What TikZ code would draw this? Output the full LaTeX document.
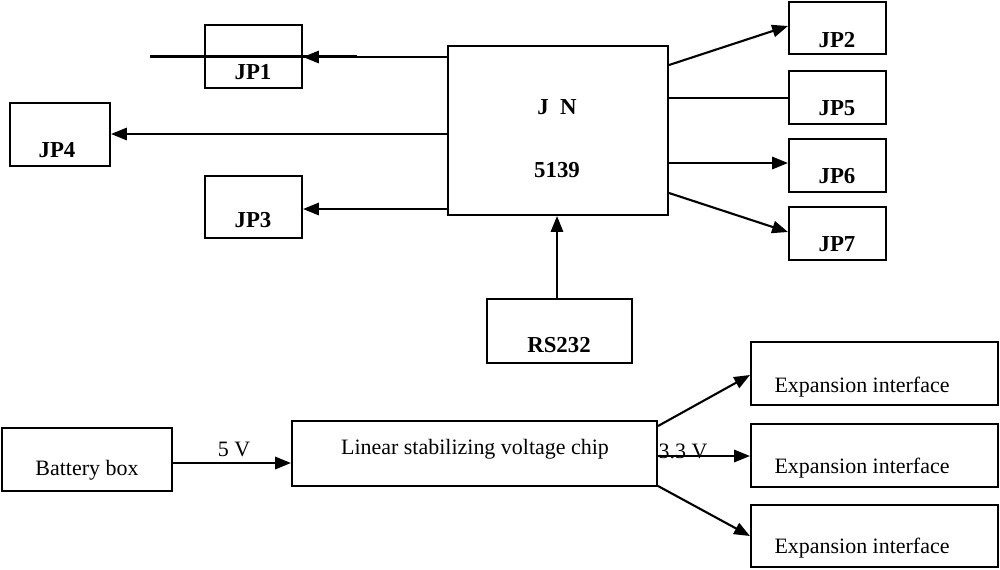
\documentclass[tikz,border=0pt]{standalone}
\usepackage{fontspec}
\setmainfont{Liberation Serif}
\usetikzlibrary{arrows.meta}

\begin{document}
\begin{tikzpicture}[
    x=0.02cm, y=-0.02cm,
    % Box and arrow styles
    box/.style={draw, line width=1.2pt, inner sep=0pt},
    jp/.style={font=\bfseries\fontsize{13}{15}\selectfont},
    plain/.style={font=\fontsize{12.5}{15}\selectfont},
    arr/.style={line width=1.2pt, -{Triangle[length=9pt,width=7pt]}},
    wire/.style={line width=1.2pt},
]
\useasboundingbox (0,0) rectangle (1000,569);

% Upper boxes
\node[box, minimum width=97\pgflinewidth] (jp1) at (253.5,56.5) {};
\path[box] (205,25) rectangle (302,88);
\coordinate (jp1e) at (302,57);
\node[box, minimum width=1.94cm, minimum height=1.26cm] (jp1) at (253.5,56.5) {};
\node[box, minimum width=2.0cm, minimum height=1.26cm] (jp4) at (60,134.5) {};
\node[box, minimum width=1.94cm, minimum height=1.24cm] (jp3) at (253.5,207) {};
\node[box, minimum width=4.4cm, minimum height=3.38cm] (jn) at (558,130.5) {};
\node[box, minimum width=1.94cm, minimum height=1.04cm] (jp2) at (837.5,28) {};
\node[box, minimum width=1.94cm, minimum height=1.06cm] (jp5) at (837.5,97.5) {};
\node[box, minimum width=1.94cm, minimum height=1.06cm] (jp6) at (837.5,165.5) {};
\node[box, minimum width=1.94cm, minimum height=1.06cm] (jp7) at (837.5,233.5) {};
\node[box, minimum width=2.9cm, minimum height=1.28cm] (rs) at (559.5,331) {};

% Upper labels
\node[jp] (jp1t) at (253,72) {JP1};
\node[jp] (jp4t) at (57,150) {JP4};
\node[jp] (jp3t) at (253,220) {JP3};
\node[jp] (jnt) at (557,107) {J\ \ N};
\node[jp] (jnn) at (557,170) {5139};
\node[jp] (jp2t) at (837,40) {JP2};
\node[jp] (jp5t) at (837,108) {JP5};
\node[jp] (jp6t) at (837,176) {JP6};
\node[jp] (jp7t) at (837,244) {JP7};
\node[jp] (rst) at (559,345) {RS232};

% Upper connectors
\draw[arr] (jn.west |- 0,57) -- (jp1.east |- 0,57);
\draw[arr] (jn.west |- 0,134) -- (jp4.east |- 0,134);
\draw[arr] (jn.west |- 0,209) -- (jp3.east |- 0,209);
\draw[arr] (jn.east |- 0,65) -- (jp2.west |- 0,26);
\draw[wire] (jn.east |- 0,98) -- (jp5.west |- 0,98);
\draw[arr] (jn.east |- 0,163) -- (jp6.west |- 0,163);
\draw[arr] (jn.east |- 0,193) -- (jp7.west |- 0,232);
\draw[arr] (rs.north -| 557,0) -- (jn.south -| 557,0);

% Lower boxes
\node[box, minimum width=3.4cm, minimum height=1.26cm] (bat) at (87,459.5) {};
\node[box, minimum width=7.3cm, minimum height=1.3cm] (lin) at (474.5,453.5) {};
\node[box, minimum width=4.94cm, minimum height=1.26cm] (ex1) at (874.5,373.5) {};
\node[box, minimum width=4.94cm, minimum height=1.26cm] (ex2) at (874.5,455.5) {};
\node[box, minimum width=4.94cm, minimum height=1.24cm] (ex3) at (874.5,536) {};

% Lower labels
\node[plain] (batt) at (87,470) {Battery box};
\node[plain] (lint) at (475,449) {Linear stabilizing voltage chip};
\node[plain] (ex1t) at (862,387) {Expansion interface};
\node[plain] (ex2t) at (862,468) {Expansion interface};
\node[plain] (ex3t) at (862,548) {Expansion interface};
\node[plain] (v5) at (234,449) {5 V};
\node[plain] (v33) at (683,451) {3.3 V};

% Lower connectors
\draw[arr] (bat.east |- 0,463) -- (lin.west |- 0,463);
\draw[arr] (lin.east |- 0,426) -- (ex1.west |- 0,375);
\draw[arr] (lin.east |- 0,456) -- (ex2.west |- 0,456);
\draw[arr] (lin.east |- 0,486) -- (ex3.west |- 0,536);
\end{tikzpicture}
\end{document}
